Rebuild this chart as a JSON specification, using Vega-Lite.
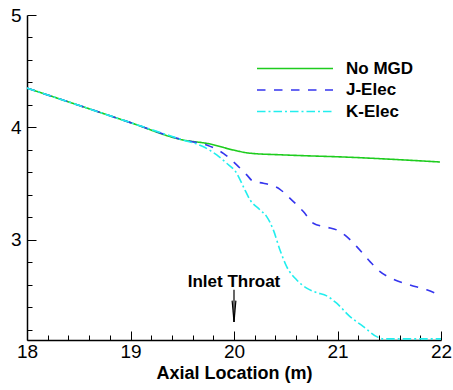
{
  "$schema": "https://vega.github.io/schema/vega-lite/v6.json",
  "width": 414,
  "height": 325,
  "autosize": "none",
  "padding": {"left": 27, "top": 15, "right": 12, "bottom": 50},
  "config": {
    "view": {"stroke": null},
    "font": "Liberation Sans"
  },
  "datasets": {
    "curves": [
      {"series": "No MGD", "x": 18.0, "y": 4.35},
      {"series": "No MGD", "x": 18.5, "y": 4.197},
      {"series": "No MGD", "x": 19.0, "y": 4.043},
      {"series": "No MGD", "x": 19.5, "y": 3.89},
      {"series": "No MGD", "x": 19.77, "y": 3.853},
      {"series": "No MGD", "x": 19.99, "y": 3.80},
      {"series": "No MGD", "x": 20.155, "y": 3.771},
      {"series": "No MGD", "x": 20.476, "y": 3.756},
      {"series": "No MGD", "x": 21.12, "y": 3.735},
      {"series": "No MGD", "x": 21.99, "y": 3.693},
      {"series": "J-Elec", "x": 18.0, "y": 4.35},
      {"series": "J-Elec", "x": 18.5, "y": 4.197},
      {"series": "J-Elec", "x": 19.0, "y": 4.043},
      {"series": "J-Elec", "x": 19.51, "y": 3.889},
      {"series": "J-Elec", "x": 19.736, "y": 3.844},
      {"series": "J-Elec", "x": 19.897, "y": 3.77},
      {"series": "J-Elec", "x": 20.026, "y": 3.667},
      {"series": "J-Elec", "x": 20.123, "y": 3.578},
      {"series": "J-Elec", "x": 20.187, "y": 3.52},
      {"series": "J-Elec", "x": 20.284, "y": 3.504},
      {"series": "J-Elec", "x": 20.444, "y": 3.45},
      {"series": "J-Elec", "x": 20.541, "y": 3.37},
      {"series": "J-Elec", "x": 20.67, "y": 3.252},
      {"series": "J-Elec", "x": 20.766, "y": 3.148},
      {"series": "J-Elec", "x": 20.896, "y": 3.113},
      {"series": "J-Elec", "x": 20.992, "y": 3.089},
      {"series": "J-Elec", "x": 21.089, "y": 3.03},
      {"series": "J-Elec", "x": 21.186, "y": 2.94},
      {"series": "J-Elec", "x": 21.314, "y": 2.807},
      {"series": "J-Elec", "x": 21.411, "y": 2.718},
      {"series": "J-Elec", "x": 21.539, "y": 2.65},
      {"series": "J-Elec", "x": 21.70, "y": 2.60},
      {"series": "J-Elec", "x": 21.862, "y": 2.556},
      {"series": "J-Elec", "x": 21.99, "y": 2.511},
      {"series": "K-Elec", "x": 18.0, "y": 4.35},
      {"series": "K-Elec", "x": 18.5, "y": 4.197},
      {"series": "K-Elec", "x": 19.0, "y": 4.043},
      {"series": "K-Elec", "x": 19.5, "y": 3.89},
      {"series": "K-Elec", "x": 19.70, "y": 3.83},
      {"series": "K-Elec", "x": 19.833, "y": 3.756},
      {"series": "K-Elec", "x": 19.929, "y": 3.682},
      {"series": "K-Elec", "x": 20.026, "y": 3.593},
      {"series": "K-Elec", "x": 20.09, "y": 3.474},
      {"series": "K-Elec", "x": 20.155, "y": 3.356},
      {"series": "K-Elec", "x": 20.251, "y": 3.267},
      {"series": "K-Elec", "x": 20.316, "y": 3.207},
      {"series": "K-Elec", "x": 20.38, "y": 3.089},
      {"series": "K-Elec", "x": 20.444, "y": 2.911},
      {"series": "K-Elec", "x": 20.509, "y": 2.763},
      {"series": "K-Elec", "x": 20.606, "y": 2.644},
      {"series": "K-Elec", "x": 20.702, "y": 2.571},
      {"series": "K-Elec", "x": 20.799, "y": 2.532},
      {"series": "K-Elec", "x": 20.896, "y": 2.502},
      {"series": "K-Elec", "x": 20.992, "y": 2.437},
      {"series": "K-Elec", "x": 21.121, "y": 2.318},
      {"series": "K-Elec", "x": 21.25, "y": 2.229},
      {"series": "K-Elec", "x": 21.379, "y": 2.14},
      {"series": "K-Elec", "x": 21.44, "y": 2.12},
      {"series": "K-Elec", "x": 22.0, "y": 2.12}
    ],
    "arrow": [
      {"x": 20.0, "y": 2.556, "x2": 20.0, "y2": 2.271},
      {"x": 19.982, "y": 2.46, "x2": 20.0, "y2": 2.271},
      {"x": 20.018, "y": 2.46, "x2": 20.0, "y2": 2.271}
    ],
    "notes": [
      {"x": 20.0, "y": 2.627, "label": "Inlet Throat"}
    ]
  },
  "encoding": {
    "x": {
      "field": "x",
      "type": "quantitative",
      "scale": {"domain": [18, 22], "nice": false, "zero": false},
      "axis": {
        "title": "Axial Location (m)",
        "values": [18, 18.2, 18.4, 18.6, 18.8, 19, 19.2, 19.4, 19.6, 19.8, 20, 20.2, 20.4, 20.6, 20.8, 21, 21.2, 21.4, 21.6, 21.8, 22],
        "labelExpr": "abs(datum.value - round(datum.value)) < 0.01 ? format(datum.value, 'd') : ''",
        "tickSize": -9,
        "tickDash": {"condition": {"test": "abs(datum.value - round(datum.value)) < 0.01", "value": [20, 0]}, "value": [5, 30]},
        "grid": false,
        "domainColor": "black",
        "domainWidth": 1.5,
        "tickColor": "black",
        "tickWidth": 1,
        "labelFontSize": 19,
        "labelColor": "black",
        "labelPadding": 11,
        "labelOverlap": false,
        "labelFlush": false,
        "titleFontSize": 18,
        "titleFontWeight": "bold",
        "titleColor": "black",
        "titlePadding": 3
      }
    },
    "y": {
      "field": "y",
      "type": "quantitative",
      "scale": {"domain": [2.11, 5], "nice": false, "zero": false},
      "axis": {
        "title": null,
        "values": [2.2, 2.4, 2.6, 2.8, 3, 3.2, 3.4, 3.6, 3.8, 4, 4.2, 4.4, 4.6, 4.8, 5],
        "labelExpr": "abs(datum.value - round(datum.value)) < 0.01 ? format(datum.value, 'd') : ''",
        "tickSize": -9,
        "tickDash": {"condition": {"test": "abs(datum.value - round(datum.value)) < 0.01", "value": [20, 0]}, "value": [5, 30]},
        "grid": false,
        "domainColor": "black",
        "domainWidth": 1.5,
        "tickColor": "black",
        "tickWidth": 1,
        "labelFontSize": 19,
        "labelColor": "black",
        "labelPadding": 15,
        "labelOverlap": false,
        "labelFlush": false
      }
    }
  },
  "layer": [
    {
      "data": {"name": "curves"},
      "mark": {"type": "line", "strokeWidth": 1.6, "interpolate": "monotone", "clip": true},
      "encoding": {
        "color": {
          "field": "series",
          "type": "nominal",
          "scale": {"domain": ["No MGD", "J-Elec", "K-Elec"], "range": ["#1ecc1e", "#3535ee", "#22eeee"]},
          "legend": {
            "orient": "none", "legendX": 229, "legendY": 43, "title": null,
            "symbolType": "stroke", "symbolSize": 5776, "symbolStrokeWidth": 1.6,
            "clipHeight": 21, "rowPadding": 0.5, "padding": 0,
            "labelFont": "Liberation Sans", "labelFontSize": 17, "labelFontWeight": "bold",
            "labelColor": "black", "labelOffset": 12
          }
        },
        "strokeDash": {
          "field": "series",
          "type": "nominal",
          "scale": {"domain": ["No MGD", "J-Elec", "K-Elec"], "range": [[1, 0], [8.5, 8.5], [8.5, 3, 2, 3]]},
          "legend": {
            "orient": "none", "legendX": 229, "legendY": 43, "title": null,
            "symbolType": "stroke", "symbolSize": 5776, "symbolStrokeWidth": 1.6,
            "clipHeight": 21, "rowPadding": 0.5, "padding": 0,
            "labelFont": "Liberation Sans", "labelFontSize": 17, "labelFontWeight": "bold",
            "labelColor": "black", "labelOffset": 12
          }
        }
      }
    },
    {
      "data": {"name": "arrow"},
      "mark": {"type": "rule", "color": "black", "strokeWidth": 1.2},
      "encoding": {
        "x2": {"field": "x2"},
        "y2": {"field": "y2"}
      }
    },
    {
      "data": {"name": "notes"},
      "mark": {"type": "text", "font": "Liberation Sans", "fontSize": 17, "fontWeight": "bold", "color": "black", "align": "center", "baseline": "middle"},
      "encoding": {
        "text": {"field": "label"}
      }
    }
  ]
}
